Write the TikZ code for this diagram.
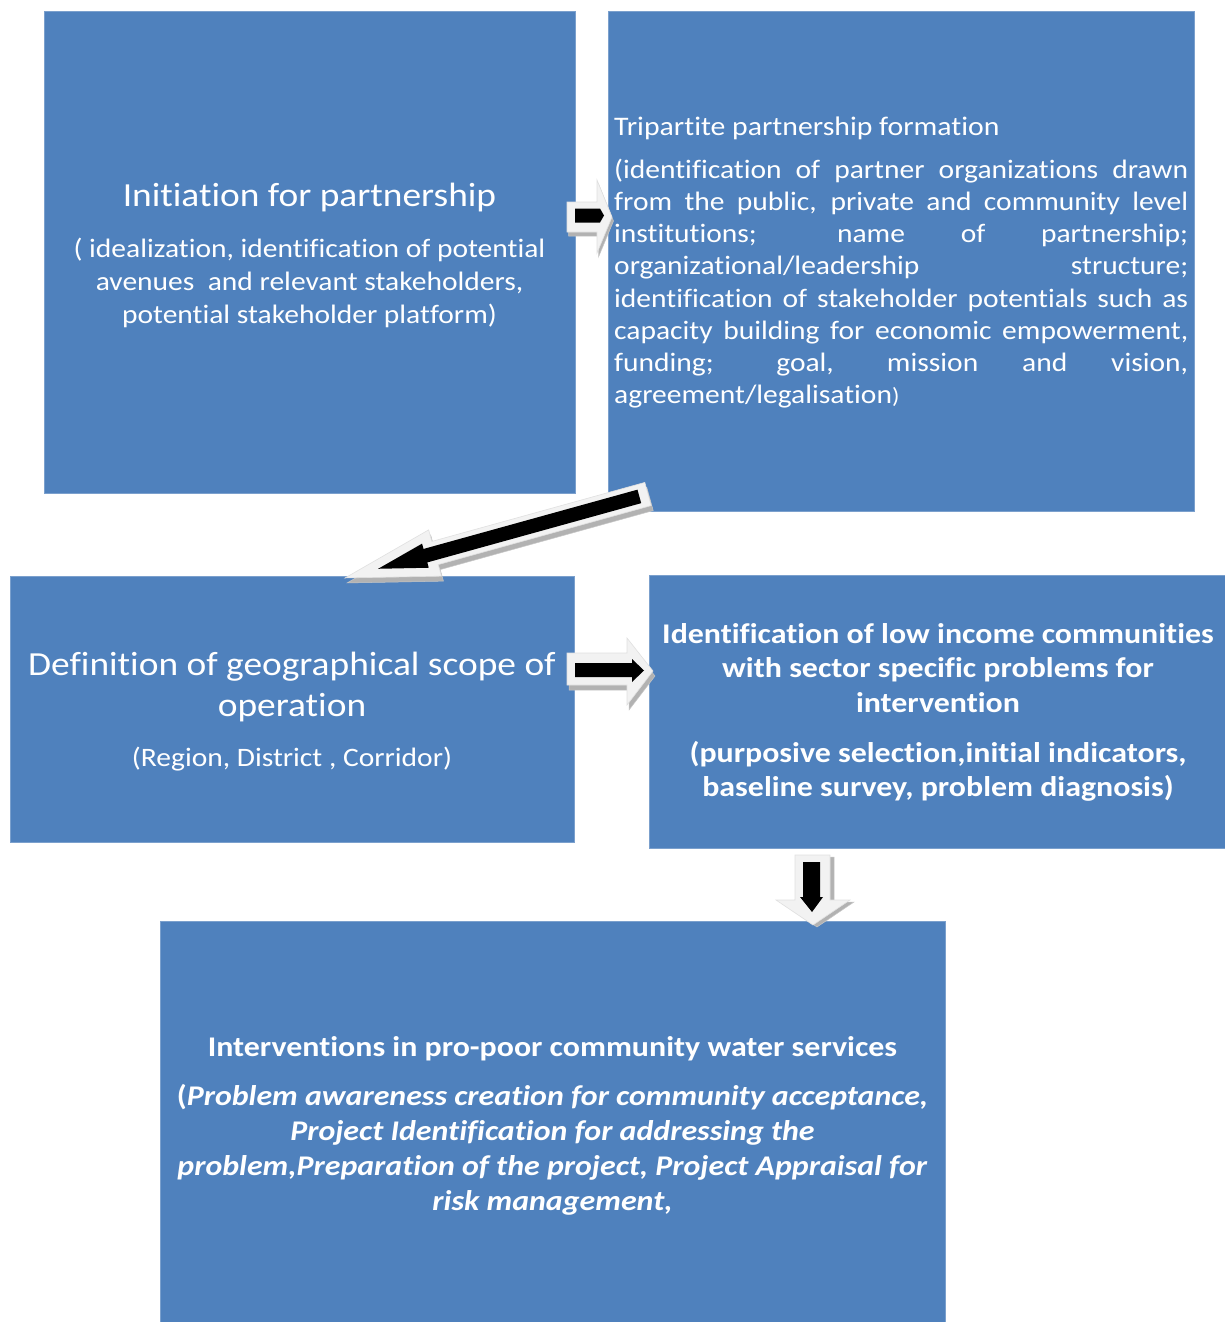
\documentclass[tikz,border=0pt]{standalone}
\usepackage{fontspec}
\setmainfont{Carlito}[Ligatures={NoCommon}, FakeStretch=1.11,
  BoldFeatures={FakeStretch=1.12}, BoldItalicFeatures={FakeStretch=1.12}]
\definecolor{boxblue}{HTML}{4F81BD}
\definecolor{arrfill}{HTML}{F2F2F2}
\tikzset{
  box/.style={rectangle, fill=boxblue, draw=boxblue!75!white, line width=1pt, inner sep=0pt},
  txt/.style={text=white, inner sep=0pt, anchor=base},
  txtw/.style={text=white, inner sep=0pt, anchor=base west},
  arrout/.style={fill=arrfill, draw=black!12, line width=0.6pt},
  arrin/.style={fill=black},
  arrshadow/.style={fill=black!30, draw=black!22, line width=0.5pt},
}
\begin{document}
\begin{tikzpicture}[x=1pt,y=-1pt]
\useasboundingbox (0,0) rectangle (1225,1322);
\fill[white] (0,0) rectangle (1225,1322);

% boxes
\node[box, minimum width=531pt, minimum height=481pt] (b1) at (309.5,252.5) {};
\node[box, minimum width=586pt, minimum height=499pt] (b2) at (901,261.5) {};
\node[box, minimum width=564pt, minimum height=266pt] (b3) at (292,709) {};
\node[box, minimum width=576pt, minimum height=273pt] (b4) at (937,711.5) {};
\node[box, minimum width=785pt, minimum height=401pt] (b5) at (552.5,1121.5) {};

% box 1 text
\node[txt] (t1) at (309.5,206.7) {\fontsize{33.7}{41}\selectfont Initiation for partnership};
\node[txt] (t1b) at (309.5,257.3) {\parbox[t]{530pt}{\centering\fontsize{26.6}{33.3}\selectfont
( idealization, identification of potential\\
avenues~ and relevant stakeholders,\\
potential stakeholder platform)}};

% box 2 text
\node[txtw] (t2) at (614,135) {\fontsize{26.8}{32.2}\selectfont Tripartite partnership formation};
\node[txtw] (t2b) at (614,178.3) {\parbox[t]{574pt}{\fontsize{26.6}{32.2}\selectfont
\makebox[574pt][s]{(identification of partner organizations drawn}\\
\makebox[574pt][s]{from the public, private and community level}\\
\makebox[574pt][s]{institutions; name of partnership;}\\
\makebox[574pt][s]{organizational/leadership structure;}\\
\makebox[574pt][s]{identification of stakeholder potentials such as}\\
\makebox[574pt][s]{capacity building for economic empowerment,}\\
\makebox[574pt][s]{funding; goal, mission and vision,}\\
agreement/legalisation{\fontsize{22}{32.2}\selectfont)}}};

% box 3 text
\node[txt] (t3) at (292,675) {\parbox[t]{564pt}{\centering\fontsize{33.7}{41}\selectfont
Definition of geographical scope of\\ operation}};
\node[txt] (t3b) at (292,766) {\fontsize{26.6}{32.2}\selectfont (Region, District , Corridor)};

% box 4 text
\node[txt] (t4) at (938,643.3) {\parbox[t]{576pt}{\centering\bfseries\fontsize{28.5}{34.5}\selectfont
Identification of low income communities\\
with sector specific problems for\\
intervention}};
\node[txt] (t4b) at (938,762) {\parbox[t]{576pt}{\centering\bfseries\fontsize{28.5}{34.5}\selectfont
(purposive selection,initial indicators,\\
baseline survey, problem diagnosis)}};

% box 5 text
\node[txt] (t5) at (552.5,1056) {\bfseries\fontsize{28.5}{34.5}\selectfont Interventions in pro-poor community water services};
\node[txt] (t5b) at (552.5,1105) {\parbox[t]{785pt}{\centering\bfseries\fontsize{28.5}{35}\selectfont
(\textit{Problem awareness creation for community acceptance,}\\
\textit{Project Identification for addressing the}\\
\textit{problem,Preparation of the project, Project Appraisal for}\\
\textit{risk management,}}};

% arrow 1 : b1 -> b2
\begin{scope}[shift={(1.5,4)}]
\path[arrshadow] (567,202) -- (597,202) -- (597,180) -- (612,217) -- (597,253) -- (597,232) -- (567,232) -- cycle;
\end{scope}
\path[arrout] (567,202) -- (597,202) -- (597,180) -- (612,217) -- (597,253) -- (597,232) -- (567,232) -- cycle;
\path[arrin] (575,208.5) -- (600,208.5) -- (604,215.5) -- (600,222.5) -- (575,222.5) -- cycle;

% arrow 2 : b2 -> b3 (diagonal)
\begin{scope}[shift={(650,499)}, rotate=195.49]
\path[arrshadow] (0,-12) -- (221,-12) -- (221,-24) -- (314.4,0) -- (221,24) -- (221,12) -- (0,12) -- cycle;
\end{scope}
\begin{scope}[shift={(648,494)}, rotate=195.49]
\path[arrout] (0,-12) -- (221,-12) -- (221,-24) -- (314.4,0) -- (221,24) -- (221,12) -- (0,12) -- cycle;
\path[arrin] (9,-7) -- (231,-7) -- (231,-12.5) -- (280,0) -- (231,12.5) -- (231,7) -- (9,7) -- cycle;
\end{scope}

% arrow 3 : b3 -> b4
\begin{scope}[shift={(2,5)}]
\path[arrshadow] (567,653) -- (627,653) -- (627,638) -- (653,671) -- (627,705) -- (627,685) -- (567,685) -- cycle;
\end{scope}
\path[arrout] (567,653) -- (627,653) -- (627,638) -- (653,671) -- (627,705) -- (627,685) -- (567,685) -- cycle;
\path[arrin] (575,663) -- (632,663) -- (632,659) -- (644,670.5) -- (632,682) -- (632,677) -- (575,677) -- cycle;

% arrow 4 : b4 -> b5
\begin{scope}[shift={(4,2)}]
\path[arrshadow] (795,855) -- (830,855) -- (830,900) -- (850,900) -- (813,925) -- (776,900) -- (795,900) -- cycle;
\end{scope}
\path[arrout] (795,855) -- (830,855) -- (830,900) -- (850,900) -- (813,925) -- (776,900) -- (795,900) -- cycle;
\path[arrin] (803,862) -- (820,862) -- (820,897) -- (823,897) -- (812,912) -- (800,897) -- (803,897) -- cycle;
\end{tikzpicture}
\end{document}
